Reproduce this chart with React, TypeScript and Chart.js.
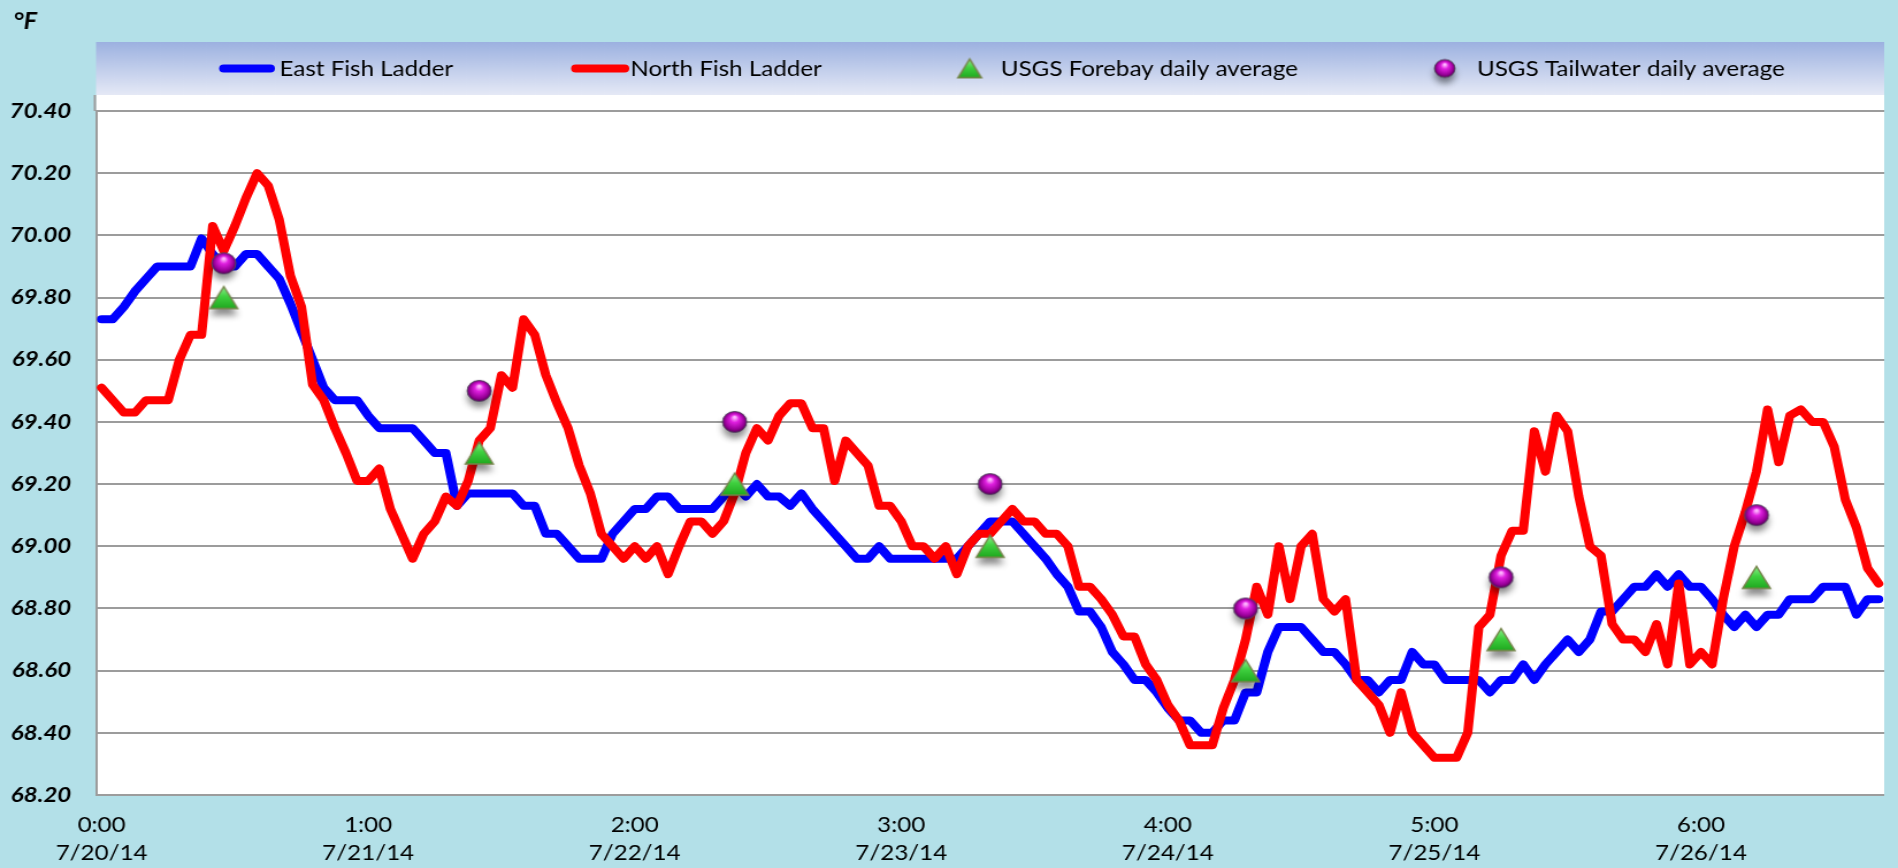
import React, { useEffect, useRef } from 'react';
import { Chart, registerables } from 'chart.js';

Chart.register(...registerables);

// ---------------- data ----------------
const DATES = ['7/20/14', '7/21/14', '7/22/14', '7/23/14', '7/24/14', '7/25/14', '7/26/14'];
const TICK_TOP = ['0:00', '1:00', '2:00', '3:00', '4:00', '5:00', '6:00'];
const HOURS_PER_DAY = 24;

// East Fish Ladder, hourly (°F)
const EAST = [
  69.73, 69.73, 69.77, 69.82, 69.86, 69.90, 69.90, 69.90, 69.90, 69.99,
  69.94, 69.90, 69.90, 69.94, 69.94, 69.90, 69.86, 69.78, 69.69, 69.60,
  69.51, 69.47, 69.47, 69.47, 69.42, 69.38, 69.38, 69.38, 69.38, 69.34,
  69.30, 69.30, 69.13, 69.17, 69.17, 69.17, 69.17, 69.17, 69.13, 69.13,
  69.04, 69.04, 69.00, 68.96, 68.96, 68.96, 69.04, 69.08, 69.12, 69.12,
  69.16, 69.16, 69.12, 69.12, 69.12, 69.12, 69.16, 69.20, 69.16, 69.20,
  69.16, 69.16, 69.13, 69.17, 69.12, 69.08, 69.04, 69.00, 68.96, 68.96,
  69.00, 68.96, 68.96, 68.96, 68.96, 68.96, 68.96, 68.96, 69.00, 69.04,
  69.08, 69.08, 69.08, 69.04, 69.00, 68.96, 68.91, 68.87, 68.79, 68.79,
  68.74, 68.66, 68.62, 68.57, 68.57, 68.53, 68.48, 68.44, 68.44, 68.40,
  68.40, 68.44, 68.44, 68.53, 68.53, 68.66, 68.74, 68.74, 68.74, 68.70,
  68.66, 68.66, 68.62, 68.57, 68.57, 68.53, 68.57, 68.57, 68.66, 68.62,
  68.62, 68.57, 68.57, 68.57, 68.57, 68.53, 68.57, 68.57, 68.62, 68.57,
  68.62, 68.66, 68.70, 68.66, 68.70, 68.79, 68.79, 68.83, 68.87, 68.87,
  68.91, 68.87, 68.91, 68.87, 68.87, 68.83, 68.78, 68.74, 68.78, 68.74,
  68.78, 68.78, 68.83, 68.83, 68.83, 68.87, 68.87, 68.87, 68.78, 68.83,
  68.83,
];

// North Fish Ladder, hourly (°F)
const NORTH = [
  69.51, 69.47, 69.43, 69.43, 69.47, 69.47, 69.47, 69.60, 69.68, 69.68,
  70.03, 69.95, 70.03, 70.12, 70.20, 70.16, 70.05, 69.87, 69.77, 69.52,
  69.47, 69.38, 69.30, 69.21, 69.21, 69.25, 69.12, 69.04, 68.96, 69.04,
  69.08, 69.16, 69.13, 69.21, 69.34, 69.38, 69.55, 69.51, 69.73, 69.68,
  69.55, 69.46, 69.38, 69.26, 69.17, 69.04, 69.00, 68.96, 69.00, 68.96,
  69.00, 68.91, 69.00, 69.08, 69.08, 69.04, 69.08, 69.17, 69.30, 69.38,
  69.34, 69.42, 69.46, 69.46, 69.38, 69.38, 69.21, 69.34, 69.30, 69.26,
  69.13, 69.13, 69.08, 69.00, 69.00, 68.96, 69.00, 68.91, 69.00, 69.04,
  69.04, 69.08, 69.12, 69.08, 69.08, 69.04, 69.04, 69.00, 68.87, 68.87,
  68.83, 68.78, 68.71, 68.71, 68.62, 68.57, 68.49, 68.44, 68.36, 68.36,
  68.36, 68.48, 68.57, 68.70, 68.87, 68.78, 69.00, 68.83, 69.00, 69.04,
  68.83, 68.79, 68.83, 68.57, 68.53, 68.49, 68.40, 68.53, 68.40, 68.36,
  68.32, 68.32, 68.32, 68.40, 68.74, 68.78, 68.97, 69.05, 69.05, 69.37,
  69.24, 69.42, 69.37, 69.16, 69.00, 68.97, 68.75, 68.70, 68.70, 68.66,
  68.75, 68.62, 68.88, 68.62, 68.66, 68.62, 68.83, 69.00, 69.11, 69.24,
  69.44, 69.27, 69.42, 69.44, 69.40, 69.40, 69.32, 69.15, 69.06, 68.93,
  68.88,
];

// USGS daily averages, one per day
const FOREBAY = [69.80, 69.30, 69.20, 69.00, 68.60, 68.70, 68.90];
const TAILWATER = [69.91, 69.50, 69.40, 69.20, 68.80, 68.90, 69.10];

const Y_MIN = 68.2;
const Y_MAX = 70.4;
const Y_STEP = 0.2;

const POINT_LABELS = EAST.map(
  (_, i) => `${DATES[Math.floor(i / HOURS_PER_DAY)]} ${i % HOURS_PER_DAY}:00`
);

// ---------------- layout / style ----------------
const CANVAS_W = 1650; // drawn narrower, then stretched to 1898 like the reference
const CANVAS_H = 868;
const DISPLAY_W = 1898;
const PLOT_LEFT = 83.5;
const WHITE_TOP = 95;
const BAND_TOP = 42;
const GRID_TOP = 111;
const X_AXIS_H = 73;
const GRID = '#9c9c9c';
const BG = '#b3e0e8';
const FONT = 'Lato';
const LEGEND_SYMBOL_X = [190.5, 496.5, 843, 1256];
const LEGEND_SWATCH_END = [239, 547];
const LEGEND_TEXT_X = [243, 548, 870, 1284];
const LEGEND_Y = 68.5;

function makeTriangle(scale: number, shadow: boolean) {
  const w = 24 * scale;
  const h = 22 * scale;
  const c = document.createElement('canvas');
  c.width = Math.ceil(w + 18);
  c.height = Math.ceil(h * 2 + 34);
  const g = c.getContext('2d')!;
  const cx = c.width / 2;
  const cy = c.height / 2;
  const path = () => {
    g.beginPath();
    g.moveTo(cx, cy - h / 2);
    g.lineTo(cx + w / 2, cy + h / 2);
    g.lineTo(cx - w / 2, cy + h / 2);
    g.closePath();
  };
  if (shadow) {
    g.save();
    g.shadowColor = 'rgba(0,0,0,0.45)';
    g.shadowBlur = 6;
    g.shadowOffsetY = 7;
    path();
    g.fillStyle = '#888';
    g.fill();
    g.restore();
  }
  const grad = g.createLinearGradient(0, cy - h / 2, 0, cy + h / 2);
  grad.addColorStop(0, '#8ff08f');
  grad.addColorStop(0.45, '#3fd03f');
  grad.addColorStop(1, '#1fa81f');
  path();
  g.fillStyle = grad;
  g.fill();
  g.lineWidth = 1.5;
  g.strokeStyle = '#75844a';
  g.stroke();
  return c;
}

function makeSphere(r: number, shadow: boolean) {
  const c = document.createElement('canvas');
  c.width = Math.ceil(2 * r + 18);
  c.height = Math.ceil(4 * r + 34);
  const g = c.getContext('2d')!;
  const cx = c.width / 2;
  const cy = c.height / 2;
  if (shadow) {
    g.save();
    g.shadowColor = 'rgba(0,0,0,0.45)';
    g.shadowBlur = 6;
    g.shadowOffsetY = 6;
    g.beginPath();
    g.arc(cx, cy, r, 0, Math.PI * 2);
    g.fillStyle = '#777';
    g.fill();
    g.restore();
  }
  const grad = g.createRadialGradient(cx, cy - r * 0.45, r * 0.08, cx, cy, r * 1.05);
  grad.addColorStop(0, '#ffb8ff');
  grad.addColorStop(0.3, '#e020e0');
  grad.addColorStop(0.75, '#980098');
  grad.addColorStop(1, '#4a004a');
  g.beginPath();
  g.arc(cx, cy, r, 0, Math.PI * 2);
  g.fillStyle = grad;
  g.fill();
  g.lineWidth = 1;
  g.strokeStyle = 'rgba(85,70,100,0.9)';
  g.stroke();
  return c;
}

export default function App() {
  const ref = useRef<HTMLCanvasElement>(null);

  useEffect(() => {
    const canvas = ref.current;
    if (!canvas) return;

    const triPlot = makeTriangle(1, true);
    const sphPlot = makeSphere(10.5, true);
    const triLegend = makeTriangle(0.85, false);
    const sphLegend = makeSphere(9, true);

    const decor = {
      id: 'decor',
      beforeDraw(chart: any) {
        const { ctx, chartArea: a, width, height } = chart;
        ctx.save();
        ctx.fillStyle = BG;
        ctx.fillRect(0, 0, width, height);
        ctx.fillStyle = '#ffffff';
        ctx.fillRect(a.left, WHITE_TOP, a.right - a.left, a.bottom - WHITE_TOP);
        const band = ctx.createLinearGradient(0, BAND_TOP, 0, WHITE_TOP);
        band.addColorStop(0, '#9cb1e0');
        band.addColorStop(1, '#e5e9f6');
        ctx.fillStyle = band;
        ctx.fillRect(a.left, BAND_TOP, a.right - a.left, WHITE_TOP - BAND_TOP);
        // axis line continues up to the legend band
        ctx.strokeStyle = GRID;
        ctx.lineWidth = 2;
        ctx.beginPath();
        ctx.moveTo(a.left - 1, WHITE_TOP);
        ctx.lineTo(a.left - 1, a.top);
        ctx.stroke();
        // unit label
        ctx.fillStyle = '#000';
        ctx.font = `italic bold 22px ${FONT}`;
        ctx.textAlign = 'left';
        ctx.textBaseline = 'alphabetic';
        ctx.fillText('°F', 11.5, 29);
        // legend
        ctx.font = `21px ${FONT}`;
        chart.data.datasets.forEach((ds: any, i: number) => {
          if (ds.showLine === false) {
            const img = ds.pointStyle === triPlot ? triLegend : sphLegend;
            ctx.drawImage(img, LEGEND_SYMBOL_X[i] - img.width / 2, LEGEND_Y - img.height / 2);
          } else {
            ctx.strokeStyle = ds.borderColor;
            ctx.lineWidth = 8;
            ctx.lineCap = 'round';
            ctx.beginPath();
            ctx.moveTo(LEGEND_SYMBOL_X[i] + 4, LEGEND_Y);
            ctx.lineTo(LEGEND_SWATCH_END[i] - 4, LEGEND_Y);
            ctx.stroke();
          }
          ctx.fillStyle = '#000';
          ctx.fillText(ds.label, LEGEND_TEXT_X[i], 76);
        });
        ctx.restore();
      },
    };

    const chart = new Chart(canvas, {
      type: 'line',
      data: {
        datasets: [
          {
            label: 'East Fish Ladder',
            data: EAST,
            xAxisID: 'x',
            borderColor: '#0000ff',
            borderWidth: 8,
            borderJoinStyle: 'round',
            borderCapStyle: 'round',
            pointRadius: 0,
            tension: 0,
            order: 4,
          },
          {
            label: 'North Fish Ladder',
            data: NORTH,
            xAxisID: 'x',
            borderColor: '#ff0000',
            borderWidth: 8,
            borderJoinStyle: 'round',
            borderCapStyle: 'round',
            pointRadius: 0,
            tension: 0,
            order: 3,
          },
          {
            label: 'USGS Forebay daily average',
            data: FOREBAY,
            xAxisID: 'x2',
            showLine: false,
            pointStyle: triPlot,
            pointRadius: 11,
            order: 2,
          },
          {
            label: 'USGS Tailwater daily average',
            data: TAILWATER,
            xAxisID: 'x2',
            showLine: false,
            pointStyle: sphPlot,
            pointRadius: 11,
            order: 1,
          },
        ] as any,
      },
      options: {
        responsive: false,
        animation: false,
        devicePixelRatio: 1,
        events: [],
        layout: { padding: { top: GRID_TOP, left: 0, right: 0, bottom: 0 } },
        plugins: {
          legend: { display: false },
          tooltip: { enabled: false },
          title: { display: false },
        },
        scales: {
          x: {
            type: 'category',
            labels: POINT_LABELS,
            offset: true,
            grid: { display: false, drawTicks: false },
            border: { display: false },
            afterBuildTicks: (s: any) => {
              s.ticks = s.ticks.filter((t: any) => t.value % HOURS_PER_DAY === 0);
            },
            afterFit: (s: any) => {
              s.height = X_AXIS_H;
            },
            ticks: {
              autoSkip: false,
              maxRotation: 0,
              minRotation: 0,
              padding: 17,
              color: '#000',
              font: { family: FONT, size: 21, lineHeight: 1.3 },
              callback: (v: any) => {
                const d = Math.floor(Number(v) / HOURS_PER_DAY);
                return [TICK_TOP[d], DATES[d]];
              },
            },
          },
          x2: {
            type: 'category',
            labels: DATES,
            offset: true,
            display: false,
          },
          y: {
            min: Y_MIN,
            max: Y_MAX,
            grid: { color: GRID, lineWidth: 2, drawTicks: false },
            border: { display: true, color: GRID, width: 2 },
            afterFit: (s: any) => {
              s.width = PLOT_LEFT;
            },
            ticks: {
              stepSize: Y_STEP,
              padding: 21.5,
              color: '#000',
              font: { family: FONT, size: 21, style: 'italic', weight: 'bold' },
              callback: (v: any) => Number(v).toFixed(2),
            },
          },
        },
      } as any,
      plugins: [decor],
    });

    return () => chart.destroy();
  }, []);

  return (
    <div
      style={{
        position: 'absolute',
        left: 0,
        top: 0,
        width: DISPLAY_W,
        height: CANVAS_H,
        overflow: 'hidden',
        background: BG,
      }}
    >
      <canvas
        ref={ref}
        width={CANVAS_W}
        height={CANVAS_H}
        style={{ width: `${DISPLAY_W}px`, height: `${CANVAS_H}px`, display: 'block' }}
      />
    </div>
  );
}
